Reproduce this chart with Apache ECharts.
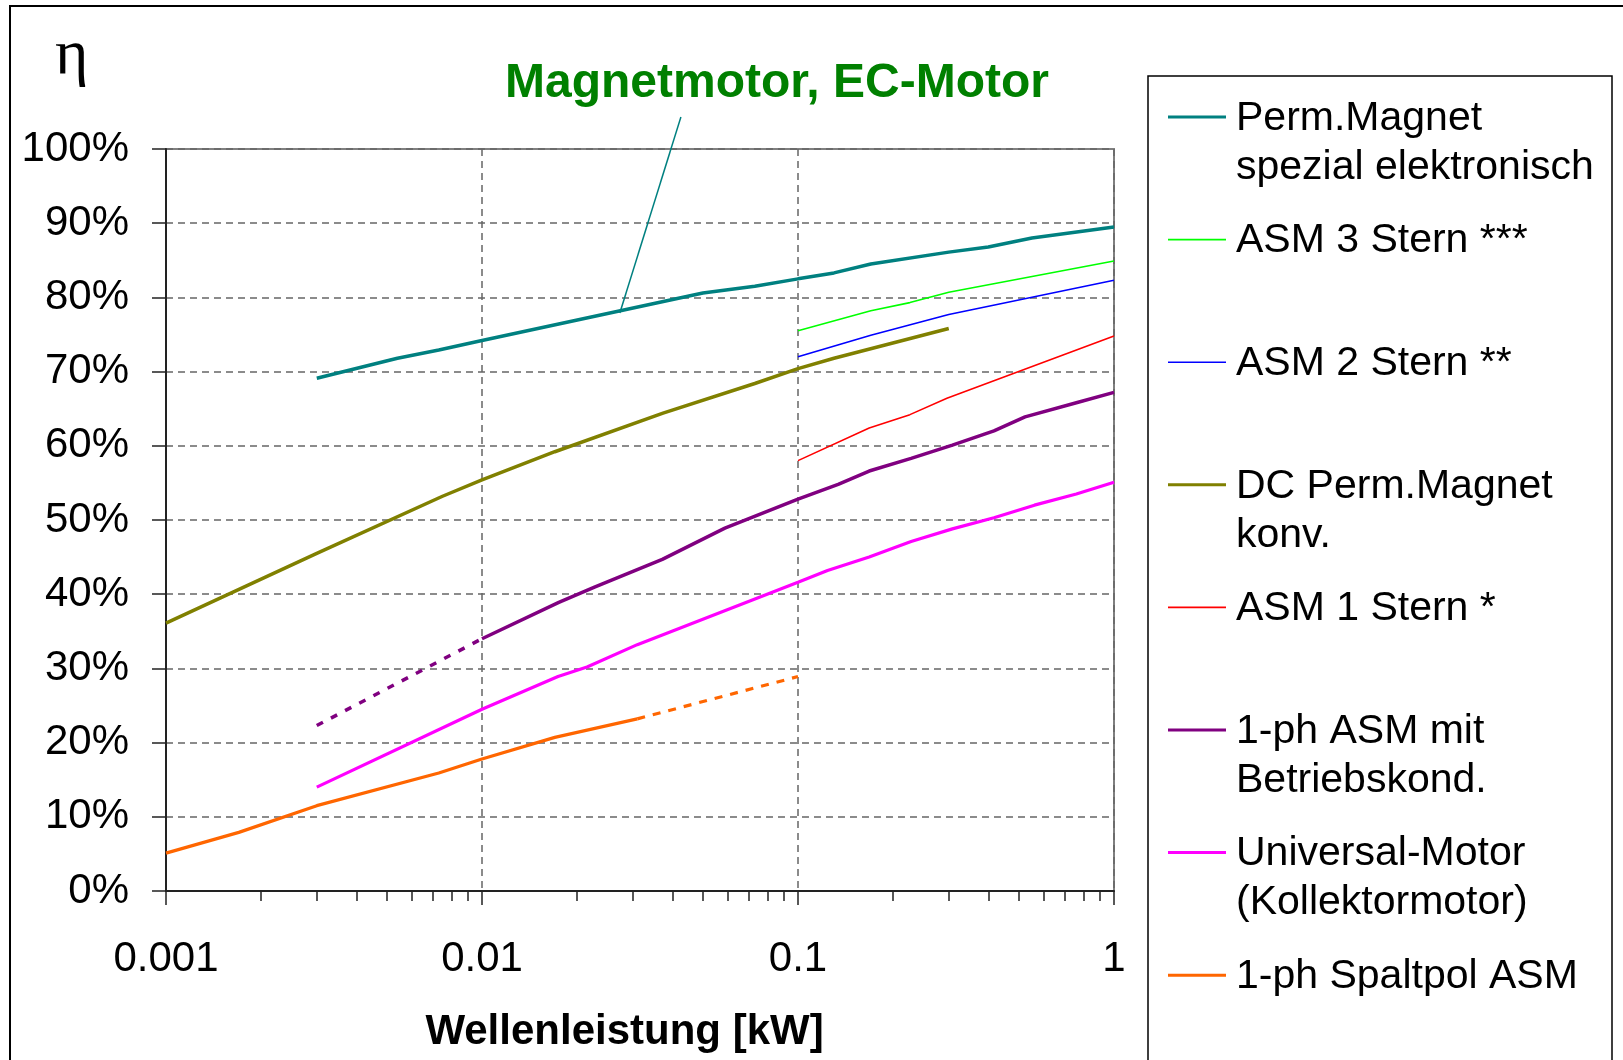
<!DOCTYPE html>
<html>
<head>
<meta charset="utf-8">
<title>Wirkungsgrad Elektromotoren</title>
<script src="https://cdn.jsdelivr.net/npm/echarts@6/dist/echarts.min.js"></script>
<style>
  html, body { margin: 0; padding: 0; background: #fff; }
  #main { width: 1623px; height: 1060px; }
</style>
</head>
<body>
<div id="main"></div>
<script>
// Wellenleistung [kW] , Wirkungsgrad [%]
var permMagnet = [[0.003, 69.1], [0.0054, 71.8], [0.0073, 72.9], [0.01, 74.2], [0.05, 80.6], [0.073, 81.5],
  [0.1, 82.5], [0.13, 83.3], [0.17, 84.5], [0.3, 86.1], [0.4, 86.8], [0.55, 88.0], [1, 89.5]]
var asm3 = [[0.1, 75.5], [0.17, 78.2], [0.226, 79.3], [0.3, 80.7], [1, 84.9]]
var asm2 = [[0.1, 72.0], [0.17, 74.9], [0.3, 77.7], [1, 82.3]]
var dcPerm = [[0.001, 36.1], [0.003, 45.5], [0.0075, 53.2], [0.01, 55.4], [0.017, 59.2], [0.0374, 64.4],
  [0.073, 68.4], [0.1, 70.4], [0.13, 71.8], [0.3, 75.8]]
var asm1 = [[0.1, 58.0], [0.168, 62.4], [0.226, 64.2], [0.296, 66.4], [1, 74.8]]
var phAsm = [[0.01, 34.0], [0.0175, 38.9], [0.0228, 41.0], [0.0372, 44.7], [0.0587, 48.9], [0.1, 52.8],
  [0.134, 54.8], [0.168, 56.6], [0.228, 58.3], [0.308, 60.1], [0.417, 62.0], [0.523, 63.9], [0.76, 65.8], [1, 67.2]]
var phAsmDash = [[0.003, 22.3], [0.01, 34.0]]
var universal = [[0.003, 14.0], [0.01, 24.5], [0.0174, 28.9], [0.0215, 30.2], [0.031, 33.2], [0.1, 41.6],
  [0.124, 43.2], [0.168, 45.0], [0.228, 47.1], [0.308, 48.8], [0.417, 50.3], [0.56, 52.0], [0.76, 53.5], [1, 55.1]]
var spaltpol = [[0.001, 5.1], [0.0017, 7.9], [0.003, 11.5], [0.0073, 15.9], [0.01, 17.8], [0.017, 20.7], [0.031, 23.2]]
var spaltpolDash = [[0.031, 23.2], [0.1, 28.9]]
// Hinweislinie zur Beschriftung "Magnetmotor, EC-Motor"
var pointerLine = [[0.0273, 77.9], [0.0426, 104.3]]

// Zwischenstriche der log. Achse
var minorTicks = [0.002, 0.003, 0.004, 0.005, 0.006, 0.007, 0.008, 0.009,
  0.02, 0.03, 0.04, 0.05, 0.06, 0.07, 0.08, 0.09,
  0.2, 0.3, 0.4, 0.5, 0.6, 0.7, 0.8, 0.9]

var legendNames = ['Perm.Magnet\nspezial elektronisch', 'ASM 3 Stern ***\n ', 'ASM 2 Stern **\n ',
  'DC Perm.Magnet\nkonv.', 'ASM 1 Stern *\n ', '1-ph ASM mit\nBetriebskond.',
  'Universal-Motor\n(Kollektormotor)', '1-ph Spaltpol ASM\n ']

var font = '"Liberation Sans", Arial, sans-serif'

// Legendensymbol: Strich oben im Feld, damit er auf Hoehe der ersten Textzeile sitzt
var iconThick = 'path://M0,0L58,0Z M0,0H58V3H0Z M0,55L58,55Z'
var iconThin = 'path://M0,0L58,0Z M0,0.7H58V2.3H0Z M0,55L58,55Z'
var legendIcons = [iconThick, iconThin, iconThin, iconThick, iconThin, iconThick, iconThick, iconThick]

function line (name, data, color, width, type) {
  return {
    name: name,
    type: 'line',
    data: data,
    symbol: 'none',
    silent: true,
    lineStyle: { color: color, width: width, type: type || 'solid' },
    itemStyle: { color: color, borderWidth: 0 }
  }
}

var chart = echarts.init(document.getElementById('main'))
var gridBox = { left: 166, right: 509, top: 149, bottom: 169 }
var gridLine = { color: '#666', width: 1.5, type: [7, 5] }

var option = {
  animation: false,
  backgroundColor: '#fff',
  title: [
    {
      text: 'η', left: 55, top: 24, padding: 0,
      textStyle: { fontFamily: '"Liberation Serif", serif', fontSize: 64, fontWeight: 'normal', color: '#000' }
    },
    {
      text: 'Magnetmotor, EC-Motor', left: 505, top: 60, padding: 0,
      textStyle: { fontFamily: font, fontSize: 48, fontWeight: 'bold', color: '#008000' }
    }
  ],
  legend: {
    orient: 'vertical',
    left: 1168,
    top: 94,
    height: 1000,
    padding: 0,
    itemWidth: 58,
    itemHeight: 55,
    itemGap: 24.6,
    selectedMode: false,
    itemStyle: { borderWidth: 0 },
    data: legendNames.map(function (n, i) { return { name: n, icon: legendIcons[i] } }),
    textStyle: { fontFamily: font, fontSize: 41, lineHeight: 49, color: '#000', padding: [0, 0, 0, 5] }
  },
  graphic: [
    // Rahmen aussen
    { type: 'rect', silent: true, shape: { x: 10, y: 6, width: 1640, height: 1100 },
      style: { fill: 'none', stroke: '#000', lineWidth: 2 } },
    // Rahmen Legende
    { type: 'rect', silent: true, shape: { x: 1148, y: 76, width: 464, height: 1050 },
      style: { fill: 'none', stroke: '#000', lineWidth: 1.5 } }
  ],
  grid: [
    Object.assign({ show: true, borderColor: '#808080', borderWidth: 2 }, gridBox),
    Object.assign({ show: false }, gridBox)
  ],
  xAxis: [
    {
      type: 'log',
      logBase: 10,
      min: 0.001,
      max: 1,
      gridIndex: 0,
      name: 'Wellenleistung [kW]',
      nameLocation: 'middle',
      nameGap: 120,
      nameTextStyle: { fontFamily: font, fontSize: 42, fontWeight: 'bold', color: '#000', padding: [0, 31, 0, 0] },
      axisLine: { lineStyle: { color: '#222', width: 2 } },
      axisTick: { length: 14, lineStyle: { color: '#222', width: 1.5 } },
      axisLabel: {
        margin: 47, fontFamily: font, fontSize: 42, color: '#000',
        formatter: function (v) { return String(+v.toPrecision(6)) }
      },
      splitLine: { show: true, lineStyle: gridLine }
    },
    {
      type: 'log',
      logBase: 10,
      min: 0.001,
      max: 1,
      gridIndex: 1,
      position: 'bottom',
      axisLine: { show: false },
      axisLabel: { show: false },
      splitLine: { show: false },
      axisTick: { show: true, length: 10, customValues: minorTicks, lineStyle: { color: '#222', width: 1.5 } }
    }
  ],
  yAxis: [
    {
      type: 'value',
      min: 0,
      max: 100,
      interval: 10,
      gridIndex: 0,
      axisLine: { show: true, lineStyle: { color: '#222', width: 2 } },
      axisTick: { show: true, length: 14, lineStyle: { color: '#222', width: 1.5 } },
      axisLabel: { margin: 37, fontFamily: font, fontSize: 42, color: '#000', formatter: '{value}%' },
      splitLine: { show: true, lineStyle: gridLine }
    },
    { type: 'value', min: 0, max: 100, gridIndex: 1, show: false }
  ],
  series: [
    line(legendNames[0], permMagnet, '#008080', 3.5),
    line(legendNames[1], asm3, '#00ff00', 1.6),
    line(legendNames[2], asm2, '#0000ff', 1.6),
    line(legendNames[3], dcPerm, '#808000', 3.5),
    line(legendNames[4], asm1, '#ff0000', 1.6),
    line(legendNames[5], phAsm, '#800080', 3.5),
    line('phAsmDash', phAsmDash, '#800080', 3.5, [7, 9]),
    line(legendNames[6], universal, '#ff00ff', 3.2),
    line(legendNames[7], spaltpol, '#ff6600', 3.2),
    line('spaltpolDash', spaltpolDash, '#ff6600', 3.2, [8, 8]),
    Object.assign(line('pointer', pointerLine, '#008080', 1.5), { clip: false })
  ]
}
chart.setOption(option)
</script>
</body>
</html>
